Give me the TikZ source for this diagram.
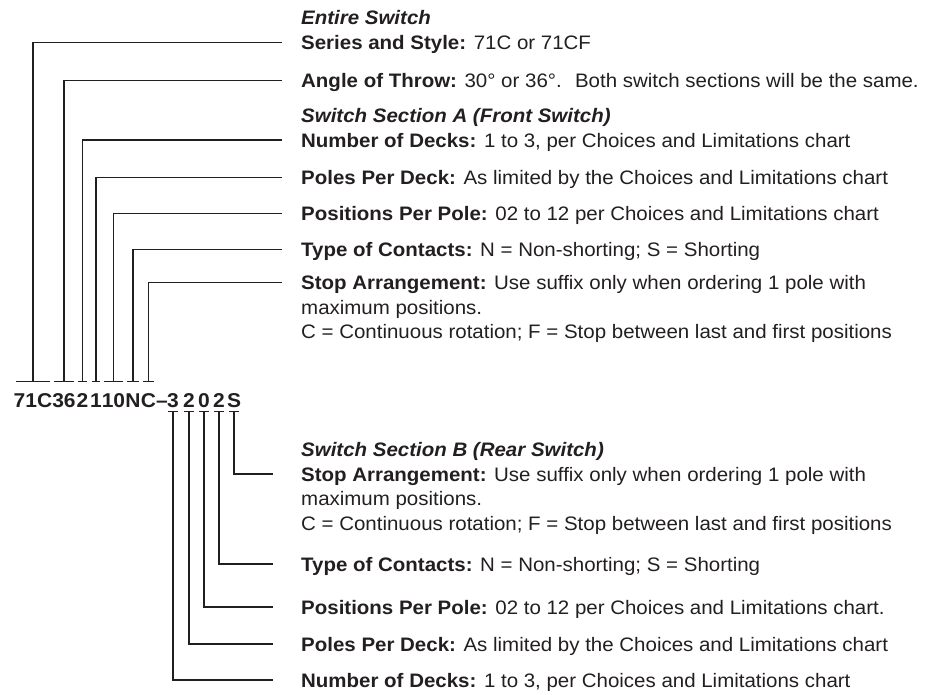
\documentclass[tikz,border=0pt]{standalone}
\usepackage{fontspec}
\setmainfont{Liberation Sans}[FakeStretch=1.05]
\definecolor{ink}{HTML}{231F20}
\tikzset{
    codechar/.style={font=\bfseries\fontsize{20}{20}\selectfont, text=ink,
        inner xsep=0pt, inner ysep=4pt, text height=22pt, text depth=0pt},
    desc/.style={font=\fontsize{19.5}{24}\selectfont, text=ink, anchor=west,
        inner sep=0pt, text height=14pt, text depth=0pt},
    head/.style={desc, font=\bfseries\itshape\fontsize{19.5}{24}\selectfont},
}
\begin{document}
\begin{tikzpicture}[
    x=1pt, y=-1pt,
    tick/.style={draw=ink, line width=1.1pt},
    lead/.style={draw=ink, line width=1.1pt, shorten >=19pt},
    leadb/.style={lead, shorten >=28pt},
]
\useasboundingbox (0,0) rectangle (925,694);

% the ordering code, one node per field
\node[codechar] (seriescode) at (33, 396.7) {71C};
\node[codechar] (anglecode)  at (64, 396.7) {36};
\node[codechar] (decksAcode) at (82.5, 396.7) {2};
\node[codechar] (polesAcode) at (96, 396.7) {1};
\node[codechar] (posAcode)   at (113.5, 396.7) {10};
\node[codechar] (typeAcode)  at (133, 396.7) {N};
\node[codechar] (stopAcode)  at (148.5, 396.7) {C};
\node[codechar] (dashcode)   at (162, 396.7) {–};
\node[codechar] (decksBcode) at (173, 396.7) {3};
\node[codechar] (polesBcode) at (189, 396.7) {2};
\node[codechar] (posBcode)   at (204, 396.7) {0};
\node[codechar] (typeBcode)  at (219, 396.7) {2};
\node[codechar] (stopBcode)  at (234, 396.7) {S};

% bars over the front switch fields
\draw[tick] ([xshift=2pt]seriescode.north west) -- ([xshift=-2pt]seriescode.north east);
\draw[tick] ([xshift=2pt]anglecode.north west) -- ([xshift=-2pt]anglecode.north east);
\draw[tick] ([xshift=2pt]decksAcode.north west) -- ([xshift=-2pt]decksAcode.north east);
\draw[tick] ([xshift=2pt]polesAcode.north west) -- ([xshift=-2pt]polesAcode.north east);
\draw[tick] ([xshift=2pt]posAcode.north west) -- ([xshift=-2pt]posAcode.north east);
\draw[tick] ([xshift=2pt]typeAcode.north west) -- ([xshift=-2pt]typeAcode.north east);
\draw[tick] ([xshift=2pt]stopAcode.north west) -- ([xshift=-2pt]stopAcode.north east);

% bars under the rear switch fields
\draw[tick] ([xshift=-5pt]decksBcode.south) -- ([xshift=5pt]decksBcode.south);
\draw[tick] ([xshift=-5pt]polesBcode.south) -- ([xshift=5pt]polesBcode.south);
\draw[tick] ([xshift=-5pt]posBcode.south) -- ([xshift=5pt]posBcode.south);
\draw[tick] ([xshift=-5pt]typeBcode.south) -- ([xshift=5pt]typeBcode.south);
\draw[tick] ([xshift=-5pt]stopBcode.south) -- ([xshift=5pt]stopBcode.south);

% entire switch and front switch texts
\node[desc] (seriestext) at (301, 42.7) {\textbf{Series and Style:} 71C or 71CF};
\node[head] (entirehead) at ([yshift=25pt]seriestext.west) {Entire Switch};
\node[desc] (angletext)  at (301, 80.7) {\textbf{Angle of Throw:} 30° or 36°.~ Both switch sections will be the same.};
\node[desc] (decksAtext) at (301, 140) {\textbf{Number of Decks:} 1 to 3, per Choices and Limitations chart};
\node[head] (fronthead)  at ([yshift=25pt]decksAtext.west) {Switch Section A (Front Switch)};
\node[desc] (polesAtext) at (301, 177.7) {\textbf{Poles Per Deck:} As limited by the Choices and Limitations chart};
\node[desc] (posAtext)   at (301, 213.3) {\textbf{Positions Per Pole:} 02 to 12 per Choices and Limitations chart};
\node[desc] (typeAtext)  at (301, 249.3) {\textbf{Type of Contacts:} N = Non-shorting; S = Shorting};
\node[desc] (stopAtext)  at (301, 282.7) {\textbf{Stop Arrangement:} Use suffix only when ordering 1 pole with};
\node[desc] (stopAmore)  at ([yshift=-24.5pt]stopAtext.west) {maximum positions.};
\node[desc] (stopAlast)  at ([yshift=-24.5pt]stopAmore.west) {C = Continuous rotation; F = Stop between last and first positions};

% rear switch texts
\node[desc] (stopBtext)  at (301, 474) {\textbf{Stop Arrangement:} Use suffix only when ordering 1 pole with};
\node[head] (rearhead)   at ([yshift=25pt]stopBtext.west) {Switch Section B (Rear Switch)};
\node[desc] (stopBmore)  at ([yshift=-24.5pt]stopBtext.west) {maximum positions.};
\node[desc] (stopBlast)  at ([yshift=-24.5pt]stopBmore.west) {C = Continuous rotation; F = Stop between last and first positions};
\node[desc] (typeBtext)  at (301, 564) {\textbf{Type of Contacts:} N = Non-shorting; S = Shorting};
\node[desc] (posBtext)   at (301, 607) {\textbf{Positions Per Pole:} 02 to 12 per Choices and Limitations chart.};
\node[desc] (polesBtext) at (301, 644) {\textbf{Poles Per Deck:} As limited by the Choices and Limitations chart};
\node[desc] (decksBtext) at (301, 680) {\textbf{Number of Decks:} 1 to 3, per Choices and Limitations chart};

% leaders, front switch up
\draw[lead] (seriescode.north) |- (seriestext.west);
\draw[lead] (anglecode.north) |- (angletext.west);
\draw[lead] (decksAcode.north) |- (decksAtext.west);
\draw[lead] (polesAcode.north) |- (polesAtext.west);
\draw[lead] (posAcode.north) |- (posAtext.west);
\draw[lead] (typeAcode.north) |- (typeAtext.west);
\draw[lead] (stopAcode.north) |- (stopAtext.west);

% leaders, rear switch down
\draw[leadb] (stopBcode.south) |- (stopBtext.west);
\draw[leadb] (typeBcode.south) |- (typeBtext.west);
\draw[leadb] (posBcode.south) |- (posBtext.west);
\draw[leadb] (polesBcode.south) |- (polesBtext.west);
\draw[leadb] (decksBcode.south) |- (decksBtext.west);
\end{tikzpicture}
\end{document}
